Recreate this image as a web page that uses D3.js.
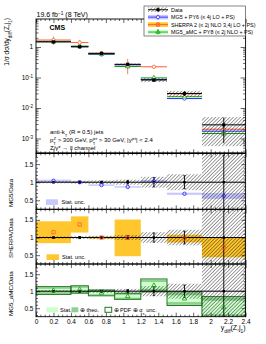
<!DOCTYPE html>
<html>
<head>
<meta charset="utf-8">
<script src="https://cdn.jsdelivr.net/npm/d3@7"></script>
<style>
body { margin: 0; background: #fff; }
text { font-family: "Liberation Sans", Arial, sans-serif; fill: #000; }
</style>
</head>
<body>
<div id="chart"></div>
<script>
// bins in y_diff(Z,j1)
var binEdges = [0, 0.4, 0.6, 0.9, 1.2, 1.5, 1.9, 2.4];
// measured 1/sigma dsigma/dy_diff and relative uncertainties
var dataValue = [1.47, 1.02, 0.62, 0.27, 0.083, 0.030, 0.0028];
var dataStat = [0.02, 0.03, 0.03, 0.05, 0.13, 0.18, 0.75];
var dataTotal = [0.03, 0.04, 0.05, 0.07, 0.15, 0.22, 0.8];
// predictions / data
var mg5Ratio = [1.04, 1.0, 0.92, 0.87, 1.03, 0.68, 0.62];
var mg5Stat = [0.03, 0.02, 0.02, 0.02, 0.03, 0.03, 0.08];
var sherpaRatio = [1.15, 1.37, 1.0, 0.99, 2.7, 0.97, 0.72];
var sherpaStat = [0.31, 0.23, 0.03, 0.52, 0.1, 0.11, 0.28];
var amcRatio = [1.02, 1.05, 0.95, 0.85, 1.17, 0.78, 0.52];
var amcStat = [0.05, 0.05, 0.04, 0.04, 0.1, 0.1, 0.2];
var amcTheo = [0.1, 0.1, 0.075, 0.08, 0.17, 0.18, 0.3];
var amcTotal = [0.115, 0.11, 0.085, 0.09, 0.19, 0.2, 0.32];
// ticks
var xTickValues = [0, 0.2, 0.4, 0.6, 0.8, 1, 1.2, 1.4, 1.6, 1.8, 2, 2.2, 2.4];
var xTickLabels = ["0", "0.2", "0.4", "0.6", "0.8", "1", "1.2", "1.4", "1.6", "1.8", "2", "2.2", "2.4"];
var logTickValues = [1e-3, 1e-2, 1e-1, 1];
var logTickExp = ["-3", "-2", "-1", ""];
var ratioTickValues = [0.5, 1, 1.5];
var ratioTickLabels = ["0.5", "1", "1.5"];

var width = 266, height = 344;
var blue = "#2b2bff", blueBand = "#c8c8ff";
var red = "#ff5a32", orangeBand = "#ffc62e";
var green = "#12a012", greenStat = "#ccffcc", greenTheo = "#8fcf8f", greenLine = "#1f7a1f";

var svg = d3.select("#chart").append("svg")
	.attr("width", width)
	.attr("height", height);

var defs = svg.append("defs");
var pat = defs.append("pattern")
	.attr("id", "hatch")
	.attr("patternUnits", "userSpaceOnUse")
	.attr("width", 2.5).attr("height", 2.5)
	.attr("patternTransform", "rotate(45)");
pat.append("line")
	.attr("x1", 0).attr("y1", 0).attr("x2", 0).attr("y2", 2.5)
	.attr("stroke", "#000").attr("stroke-width", 0.75);

var x = d3.scaleLinear().domain([0, 2.4]).range([36, 245.6]);
var mainTop = 19, mainBot = 153.3;
var yMain = d3.scaleLog().domain([3.27e-4, 8.28]).range([mainBot, mainTop]);

var panels = [
	{ id: "mg5", y0: 153.3, y1: 209.3, title: "MG5/Data", titleY: 207 },
	{ id: "sherpa", y0: 209.3, y1: 264, title: "SHERPA/Data", titleY: 258 },
	{ id: "amc", y0: 264, y1: 316.7, title: "MG5_aMC/Data", titleY: 316 }
];
panels.forEach(function(p) {
	p.y = d3.scaleLinear().domain([0.25, 1.8]).range([p.y1, p.y0]);
});

var bins = d3.range(dataValue.length).map(function(i) {
	return { i: i, lo: binEdges[i], hi: binEdges[i + 1], c: (binEdges[i] + binEdges[i + 1]) / 2 };
});

function clip(id, y0, y1) {
	defs.append("clipPath").attr("id", id)
		.append("rect")
		.attr("x", x(0)).attr("y", y0)
		.attr("width", x(2.4) - x(0)).attr("height", y1 - y0);
	return "url(#" + id + ")";
}

// ---------- main panel ----------
var main = svg.append("g").attr("clip-path", clip("clipMain", mainTop, mainBot));

function drawPred(ratio, stat, color) {
	bins.forEach(function(b) {
		var v = dataValue[b.i] * ratio[b.i];
		main.append("line")
			.attr("x1", x(b.lo)).attr("x2", x(b.hi))
			.attr("y1", yMain(v)).attr("y2", yMain(v))
			.attr("stroke", color).attr("stroke-width", 1);
		main.append("line")
			.attr("x1", x(b.c)).attr("x2", x(b.c))
			.attr("y1", yMain(v * (1 + stat[b.i]))).attr("y2", yMain(Math.max(v * (1 - stat[b.i]), 1e-6)))
			.attr("stroke", color).attr("stroke-width", 0.8);
	});
}
drawPred(mg5Ratio, mg5Stat, blue);
drawPred(amcRatio, amcStat, green);
drawPred(sherpaRatio, sherpaStat, red);

// markers
bins.forEach(function(b) {
	var v;
	v = dataValue[b.i] * mg5Ratio[b.i];
	main.append("circle").attr("cx", x(b.c)).attr("cy", yMain(v)).attr("r", 1.7)
		.attr("fill", "#fff").attr("stroke", blue).attr("stroke-width", 0.8);
	v = dataValue[b.i] * amcRatio[b.i];
	main.append("path").attr("d", d3.symbol(d3.symbolTriangle).size(9)())
		.attr("transform", "translate(" + x(b.c) + "," + yMain(v) + ")")
		.attr("fill", "#fff").attr("stroke", green).attr("stroke-width", 0.8);
	v = dataValue[b.i] * sherpaRatio[b.i];
	main.append("circle").attr("cx", x(b.c)).attr("cy", yMain(v)).attr("r", 1.7)
		.attr("fill", "#fff").attr("stroke", red).attr("stroke-width", 0.8);
});

// data hatch and points
main.selectAll("rect.hatch").data(bins).enter().append("rect")
	.attr("x", function(b) { return x(b.lo); })
	.attr("width", function(b) { return x(b.hi) - x(b.lo); })
	.attr("y", function(b) { return yMain(dataValue[b.i] * (1 + dataTotal[b.i])); })
	.attr("height", function(b) {
		return yMain(dataValue[b.i] * (1 - dataTotal[b.i])) - yMain(dataValue[b.i] * (1 + dataTotal[b.i]));
	})
	.attr("fill", "url(#hatch)");

bins.forEach(function(b) {
	var v = dataValue[b.i];
	main.append("line")
		.attr("x1", x(b.lo)).attr("x2", x(b.hi))
		.attr("y1", yMain(v)).attr("y2", yMain(v))
		.attr("stroke", "#000").attr("stroke-width", 1);
	main.append("line")
		.attr("x1", x(b.c)).attr("x2", x(b.c))
		.attr("y1", yMain(v * (1 + dataStat[b.i]))).attr("y2", yMain(v * (1 - dataStat[b.i])))
		.attr("stroke", "#000").attr("stroke-width", 0.9);
	main.append("rect")
		.attr("x", x(b.c) - 1.6).attr("y", yMain(v) - 1.6)
		.attr("width", 3.2).attr("height", 3.2).attr("fill", "#000");
});

// ---------- ratio panels ----------
panels.forEach(function(p) {
	var g = svg.append("g").attr("clip-path", clip("clip_" + p.id, p.y0, p.y1));
	p.g = g;
	var y = p.y;

	if (p.id === "mg5" || p.id === "sherpa") {
		var r = p.id === "mg5" ? mg5Ratio : sherpaRatio;
		var s = p.id === "mg5" ? mg5Stat : sherpaStat;
		var fill = p.id === "mg5" ? blueBand : orangeBand;
		g.selectAll("rect.band").data(bins).enter().append("rect")
			.attr("x", function(b) { return x(b.lo); })
			.attr("width", function(b) { return x(b.hi) - x(b.lo); })
			.attr("y", function(b) { return y(r[b.i] + s[b.i]); })
			.attr("height", function(b) { return y(r[b.i] - s[b.i]) - y(r[b.i] + s[b.i]); })
			.attr("fill", fill);
	} else {
		[[amcTheo, greenTheo], [amcStat, greenStat]].forEach(function(layer) {
			g.selectAll(null).data(bins).enter().append("rect")
				.attr("x", function(b) { return x(b.lo); })
				.attr("width", function(b) { return x(b.hi) - x(b.lo); })
				.attr("y", function(b) { return y(amcRatio[b.i] + layer[0][b.i]); })
				.attr("height", function(b) { return y(amcRatio[b.i] - layer[0][b.i]) - y(amcRatio[b.i] + layer[0][b.i]); })
				.attr("fill", layer[1]);
		});
		g.selectAll(null).data(bins).enter().append("rect")
			.attr("x", function(b) { return x(b.lo); })
			.attr("width", function(b) { return x(b.hi) - x(b.lo); })
			.attr("y", function(b) { return y(amcRatio[b.i] + amcTotal[b.i]); })
			.attr("height", function(b) { return y(amcRatio[b.i] - amcTotal[b.i]) - y(amcRatio[b.i] + amcTotal[b.i]); })
			.attr("fill", "none").attr("stroke", greenLine).attr("stroke-width", 1);
	}

	// data uncertainty hatch
	g.selectAll("rect.hatch").data(bins).enter().append("rect")
		.attr("x", function(b) { return x(b.lo); })
		.attr("width", function(b) { return x(b.hi) - x(b.lo); })
		.attr("y", function(b) { return y(1 + dataTotal[b.i]); })
		.attr("height", function(b) { return y(1 - dataTotal[b.i]) - y(1 + dataTotal[b.i]); })
		.attr("fill", "url(#hatch)");

	// line at one and data points
	g.append("line")
		.attr("x1", x(0)).attr("x2", x(2.4))
		.attr("y1", y(1)).attr("y2", y(1))
		.attr("stroke", "#000").attr("stroke-width", 1);
	bins.forEach(function(b) {
		var cx = x(b.c);
		g.append("line").attr("x1", cx).attr("x2", cx)
			.attr("y1", y(1 + dataStat[b.i])).attr("y2", y(1 - dataStat[b.i]))
			.attr("stroke", "#000").attr("stroke-width", 0.9);
		[1 + dataStat[b.i], 1 - dataStat[b.i]].forEach(function(e) {
			g.append("line").attr("x1", cx - 1.3).attr("x2", cx + 1.3)
				.attr("y1", y(e)).attr("y2", y(e))
				.attr("stroke", "#000").attr("stroke-width", 0.7);
		});
		g.append("rect").attr("x", cx - 1.2).attr("y", y(1) - 1.2)
			.attr("width", 2.4).attr("height", 2.4).attr("fill", "#000");
	});

	// prediction markers
	bins.forEach(function(b) {
		var cx = x(b.c);
		if (p.id === "mg5") {
			g.append("circle").attr("cx", cx).attr("cy", y(mg5Ratio[b.i])).attr("r", 1.7)
				.attr("fill", "none").attr("stroke", blue).attr("stroke-width", 0.9);
		} else if (p.id === "sherpa") {
			g.append("rect").attr("x", cx - 1.6).attr("y", y(sherpaRatio[b.i]) - 1.6)
				.attr("width", 3.2).attr("height", 3.2)
				.attr("fill", "none").attr("stroke", red).attr("stroke-width", 0.8);
		} else {
			g.append("path").attr("d", d3.symbol(d3.symbolTriangle).size(9)())
				.attr("transform", "translate(" + cx + "," + y(amcRatio[b.i]) + ")")
				.attr("fill", "none").attr("stroke", green).attr("stroke-width", 0.8);
		}
	});
});

// ---------- frames and axes ----------
function styleAxis(sel) {
	sel.select(".domain").remove();
	sel.selectAll(".tick line").attr("stroke", "#000").attr("stroke-width", 0.6);
	sel.selectAll("text").attr("font-size", 6.5).attr("font-family", "Liberation Sans, Arial, sans-serif");
}

var xMinor = d3.range(0, 2.4001, 0.05).filter(function(v) { return Math.abs(v * 5 - Math.round(v * 5)) > 1e-6; });

function xAxes(y0, y1, labels) {
	svg.append("g").attr("transform", "translate(0," + y1 + ")")
		.call(d3.axisBottom(x).tickValues(xTickValues).tickSize(-4).tickPadding(3)
			.tickFormat(function(d, i) { return labels ? xTickLabels[i] : ""; }))
		.call(styleAxis);
	svg.append("g").attr("transform", "translate(0," + y1 + ")")
		.call(d3.axisBottom(x).tickValues(xMinor).tickSize(-2).tickFormat(""))
		.call(styleAxis);
	svg.append("g").attr("transform", "translate(0," + y0 + ")")
		.call(d3.axisTop(x).tickValues(xTickValues).tickSize(-4).tickFormat(""))
		.call(styleAxis);
	svg.append("g").attr("transform", "translate(0," + y0 + ")")
		.call(d3.axisTop(x).tickValues(xMinor).tickSize(-2).tickFormat(""))
		.call(styleAxis);
}

// main panel y axis
var logMinor = [];
[-4, -3, -2, -1, 0].forEach(function(e) {
	for (var k = 2; k <= 9; k++) {
		var v = k * Math.pow(10, e);
		if (v > 3.27e-4 && v < 8.28) logMinor.push(v);
	}
});
[[d3.axisLeft, x(0)], [d3.axisRight, x(2.4)]].forEach(function(a) {
	svg.append("g").attr("transform", "translate(" + a[1] + ",0)")
		.call(a[0](yMain).tickValues(logTickValues).tickSize(-5).tickFormat(""))
		.call(styleAxis);
	svg.append("g").attr("transform", "translate(" + a[1] + ",0)")
		.call(a[0](yMain).tickValues(logMinor).tickSize(-2.5).tickFormat(""))
		.call(styleAxis);
});
logTickValues.forEach(function(v, i) {
	var t = svg.append("text")
		.attr("x", 33).attr("y", yMain(v) + 2.3)
		.attr("text-anchor", "end").attr("font-size", 6.5);
	if (logTickExp[i] === "") {
		t.text("1");
	} else {
		t.append("tspan").text("10");
		t.append("tspan").attr("baseline-shift", "super").attr("font-size", 4.5).text(logTickExp[i]);
	}
});
xAxes(mainTop, mainBot, false);

var ratioMinor = d3.range(0.3, 1.8, 0.1).filter(function(v) { return Math.abs(v * 2 - Math.round(v * 2)) > 1e-6; });
panels.forEach(function(p, k) {
	svg.append("g").attr("transform", "translate(" + x(0) + ",0)")
		.call(d3.axisLeft(p.y).tickValues(ratioTickValues).tickSize(-4).tickPadding(2.5)
			.tickFormat(function(d, i) { return ratioTickLabels[i]; }))
		.call(styleAxis);
	svg.append("g").attr("transform", "translate(" + x(0) + ",0)")
		.call(d3.axisLeft(p.y).tickValues(ratioMinor).tickSize(-2).tickFormat(""))
		.call(styleAxis);
	svg.append("g").attr("transform", "translate(" + x(2.4) + ",0)")
		.call(d3.axisRight(p.y).tickValues(ratioTickValues).tickSize(-4).tickFormat(""))
		.call(styleAxis);
	svg.append("g").attr("transform", "translate(" + x(2.4) + ",0)")
		.call(d3.axisRight(p.y).tickValues(ratioMinor).tickSize(-2).tickFormat(""))
		.call(styleAxis);
	xAxes(p.y0, p.y1, k === panels.length - 1);
	svg.append("rect")
		.attr("x", x(0)).attr("y", p.y0)
		.attr("width", x(2.4) - x(0)).attr("height", p.y1 - p.y0)
		.attr("fill", "none").attr("stroke", "#000").attr("stroke-width", 0.9);
	svg.append("text")
		.attr("transform", "translate(12.5," + p.titleY + ") rotate(-90)")
		.attr("text-anchor", "start").attr("font-size", 6.2)
		.text(p.title);
});
svg.append("rect")
	.attr("x", x(0)).attr("y", mainTop)
	.attr("width", x(2.4) - x(0)).attr("height", mainBot - mainTop)
	.attr("fill", "none").attr("stroke", "#000").attr("stroke-width", 0.9);
svg.append("line")
	.attr("x1", x(0)).attr("x2", x(2.4)).attr("y1", mainBot).attr("y2", mainBot)
	.attr("stroke", "#000").attr("stroke-width", 1.4);

// ---------- texts ----------
var hdr = svg.append("text").attr("x", 36.5).attr("y", 17).attr("font-size", 7);
hdr.append("tspan").text("19.6 fb");
hdr.append("tspan").attr("baseline-shift", "super").attr("font-size", 4.8).text("\u22121");
hdr.append("tspan").text(" (8 TeV)");

svg.append("text").attr("x", 49.5).attr("y", 29.5)
	.attr("font-size", 7).attr("font-weight", "bold").text("CMS");

var yt = svg.append("text")
	.attr("transform", "translate(9,18) rotate(-90)")
	.attr("text-anchor", "end").attr("font-size", 6.5);
yt.append("tspan").text("1/\u03c3 d\u03c3/dy");
yt.append("tspan").attr("baseline-shift", "sub").attr("font-size", 4.6).text("diff");
yt.append("tspan").text("(Z,j");
yt.append("tspan").attr("baseline-shift", "sub").attr("font-size", 4.6).text("1");
yt.append("tspan").text(")");

var xt = svg.append("text")
	.attr("x", 245.6).attr("y", 330)
	.attr("text-anchor", "end").attr("font-size", 7);
xt.append("tspan").text("y");
xt.append("tspan").attr("baseline-shift", "sub").attr("font-size", 4.8).text("diff");
xt.append("tspan").text("(Z,j");
xt.append("tspan").attr("baseline-shift", "sub").attr("font-size", 4.8).text("1");
xt.append("tspan").text(")");

var a1 = svg.append("text").attr("x", 50).attr("y", 134).attr("font-size", 6);
a1.append("tspan").text("anti-k");
a1.append("tspan").attr("baseline-shift", "sub").attr("font-size", 4.2).text("T");
a1.append("tspan").text(" (R = 0.5) jets");

var a2 = svg.append("text").attr("x", 50).attr("y", 142).attr("font-size", 6);
a2.append("tspan").text("p");
a2.append("tspan").attr("baseline-shift", "sub").attr("font-size", 4.2).text("T");
a2.append("tspan").attr("dx", -2.5).attr("baseline-shift", "super").attr("font-size", 4.2).text("Z");
a2.append("tspan").text(" > 300 GeV, p");
a2.append("tspan").attr("baseline-shift", "sub").attr("font-size", 4.2).text("T");
a2.append("tspan").attr("dx", -2.5).attr("baseline-shift", "super").attr("font-size", 4.2).text("jet");
a2.append("tspan").text(" > 30 GeV, |y");
a2.append("tspan").attr("baseline-shift", "super").attr("font-size", 4.2).text("jet");
a2.append("tspan").text("| < 2.4");

var a3 = svg.append("text").attr("x", 50).attr("y", 149.5).attr("font-size", 6);
a3.append("tspan").text("Z/\u03b3* \u2192 ll channel");

// ---------- legends ----------
var leg = svg.append("g");
leg.append("rect").attr("x", 144).attr("y", 6).attr("width", 101.6).attr("height", 30)
	.attr("fill", "#fff").attr("stroke", "#333").attr("stroke-width", 0.6);
var legRows = [
	{ label: "Data", fill: "url(#hatch)", color: "#000", mark: "data" },
	{ label: "MG5 + PY6 (\u2264 4j LO + PS)", fill: blueBand, color: blue, mark: "circle" },
	{ label: "SHERPA 2 (\u2264 2j NLO 3,4j LO + PS)", fill: orangeBand, color: red, mark: "square" },
	{ label: "MG5_aMC + PY8 (\u2264 2j NLO + PS)", fill: greenStat, color: green, mark: "triangle" }
];
legRows.forEach(function(r, i) {
	var cy = 9.7 + i * 7.45;
	leg.append("rect").attr("x", 148).attr("y", cy - 2.3).attr("width", 20).attr("height", 4.6).attr("fill", r.fill);
	leg.append("line").attr("x1", 148).attr("x2", 168).attr("y1", cy).attr("y2", cy)
		.attr("stroke", r.color).attr("stroke-width", 0.9);
	leg.append("line").attr("x1", 158).attr("x2", 158).attr("y1", cy - 2.5).attr("y2", cy + 2.5)
		.attr("stroke", r.color).attr("stroke-width", 0.7);
	if (r.mark === "data") {
		leg.append("rect").attr("x", 156.5).attr("y", cy - 1.5).attr("width", 3).attr("height", 3).attr("fill", "#000");
	} else if (r.mark === "circle") {
		leg.append("circle").attr("cx", 158).attr("cy", cy).attr("r", 1.6)
			.attr("fill", "#fff").attr("stroke", r.color).attr("stroke-width", 0.8);
	} else if (r.mark === "square") {
		leg.append("rect").attr("x", 156.5).attr("y", cy - 1.5).attr("width", 3).attr("height", 3)
			.attr("fill", "none").attr("stroke", r.color).attr("stroke-width", 0.8);
	} else {
		leg.append("path").attr("d", d3.symbol(d3.symbolTriangle).size(8)())
			.attr("transform", "translate(158," + cy + ")")
			.attr("fill", "none").attr("stroke", r.color).attr("stroke-width", 0.8);
	}
	leg.append("text").attr("x", 171).attr("y", cy + 1.9).attr("font-size", 5.4).text(r.label);
});

// ratio legends
svg.append("rect").attr("x", 46).attr("y", 199.3).attr("width", 12).attr("height", 5.6).attr("fill", blueBand);
svg.append("text").attr("x", 61.5).attr("y", 204.2).attr("font-size", 5.6).text("Stat. unc.");
svg.append("rect").attr("x", 46.5).attr("y", 254.3).attr("width", 12.5).attr("height", 5.7).attr("fill", orangeBand);
svg.append("text").attr("x", 62).attr("y", 259.3).attr("font-size", 5.6).text("Stat. unc.");

svg.append("rect").attr("x", 46.5).attr("y", 307.3).attr("width", 11.5).attr("height", 5).attr("fill", greenStat);
svg.append("text").attr("x", 60).attr("y", 312).attr("font-size", 5.6).text("Stat.");
svg.append("rect").attr("x", 71.5).attr("y", 307.3).attr("width", 6.8).attr("height", 5).attr("fill", greenTheo);
svg.append("text").attr("x", 80).attr("y", 312).attr("font-size", 5.6).text("\u2295 theo.");
svg.append("rect").attr("x", 105).attr("y", 307.3).attr("width", 6.7).attr("height", 5)
	.attr("fill", "#fff").attr("stroke", greenLine).attr("stroke-width", 1);
var pdf = svg.append("text").attr("x", 113.5).attr("y", 312).attr("font-size", 5.6);
pdf.append("tspan").text("\u2295 PDF \u2295 \u03b1");
pdf.append("tspan").attr("baseline-shift", "sub").attr("font-size", 4).text("s");
pdf.append("tspan").text(" unc.");
</script>
</body>
</html>
